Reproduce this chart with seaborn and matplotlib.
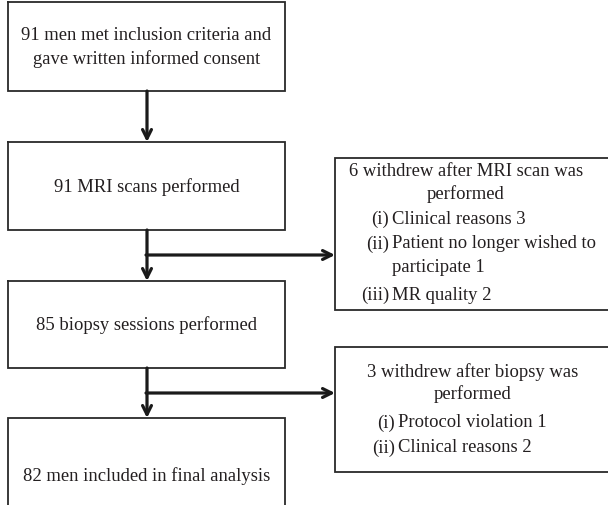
import matplotlib
matplotlib.use("Agg")
import matplotlib.pyplot as plt
import seaborn as sns

sns.set_style("white")
plt.rcParams['font.family'] = ['Liberation Serif', 'DejaVu Serif']

# ---- content ----
main_texts = [
    "91 men met inclusion criteria and\ngave written informed consent",
    "91 MRI scans performed",
    "85 biopsy sessions performed",
    "82 men included in final analysis",
]
side1_header = ["6 withdrew after MRI scan was", "performed"]
side1_labels = ["(i)", "(ii)", "", "(iii)"]
side1_items = ["Clinical reasons 3", "Patient no longer wished to", "participate 1", "MR quality 2"]
side2_header = ["3 withdrew after biopsy was", "performed"]
side2_labels = ["(i)", "(ii)"]
side2_items = ["Protocol violation 1", "Clinical reasons 2"]

# ---- layout (pixel coordinates, y downward) ----
W, H = 608, 506
fig = plt.figure(figsize=(W / 100, H / 100), dpi=100)
ax = fig.add_axes([0, 0, 1, 1])
ax.set_xlim(0, W)
ax.set_ylim(H, 0)
ax.axis("off")

TXT = "#231f20"
EDGE = "#2a2a2a"
FS = 13.4
box_lw = 1.3

main_left, main_right = 8, 285
main_boxes = [(3, 92), (143, 231), (282, 369), (419, 506)]
for i, (top, bot) in enumerate(main_boxes):
    if i < 3:
        ax.plot([main_left, main_right, main_right, main_left, main_left],
                [top, top, bot, bot, top], color=EDGE, lw=box_lw, solid_joinstyle="miter")
    else:
        ax.plot([main_left, main_left, main_right, main_right],
                [H + 2, top, top, H + 2], color=EDGE, lw=box_lw, solid_joinstyle="miter")

main_text_y = [47.5, 187, 325, 476]
for t, y in zip(main_texts, main_text_y):
    ax.text(146.5, y, t, ha="center", va="center", fontsize=FS, color=TXT, linespacing=1.4)

# side boxes: no right edge (cut at figure border)
side_left = 335
side_boxes = [(159, 311), (348, 473)]
for top, bot in side_boxes:
    ax.plot([W + 2, side_left, side_left, W + 2], [top, top, bot, bot],
            color=EDGE, lw=box_lw, solid_joinstyle="miter")

# side box 1 text
for t, y in zip(side1_header, [171, 194]):
    ax.text(466, y, t, ha="center", va="center", fontsize=FS, color=TXT)
for lab, item, y in zip(side1_labels, side1_items, [219, 244, 268, 295]):
    if lab:
        ax.text(389, y, lab, ha="right", va="center", fontsize=FS, color=TXT)
    ax.text(392, y, item, ha="left", va="center", fontsize=FS, color=TXT)

# side box 2 text
for t, y in zip(side2_header, [372, 394]):
    ax.text(473, y, t, ha="center", va="center", fontsize=FS, color=TXT)
for lab, item, y in zip(side2_labels, side2_items, [423, 448]):
    ax.text(395, y, lab, ha="right", va="center", fontsize=FS, color=TXT)
    ax.text(398, y, item, ha="left", va="center", fontsize=FS, color=TXT)

# arrows
arrow_kw = dict(arrowstyle="->", lw=2.3, color="#1a1a1a", mutation_scale=16,
                shrinkA=0, shrinkB=0)
cx = 147
ax.annotate("", xy=(cx, 143), xytext=(cx, 92), arrowprops=arrow_kw)
ax.annotate("", xy=(cx, 282), xytext=(cx, 231), arrowprops=arrow_kw)
ax.annotate("", xy=(side_left, 256), xytext=(cx - 1, 256), arrowprops=arrow_kw)
ax.annotate("", xy=(cx, 419), xytext=(cx, 369), arrowprops=arrow_kw)
ax.annotate("", xy=(side_left, 394), xytext=(cx - 1, 394), arrowprops=arrow_kw)

fig.savefig("out.png", dpi=100, facecolor="white")
